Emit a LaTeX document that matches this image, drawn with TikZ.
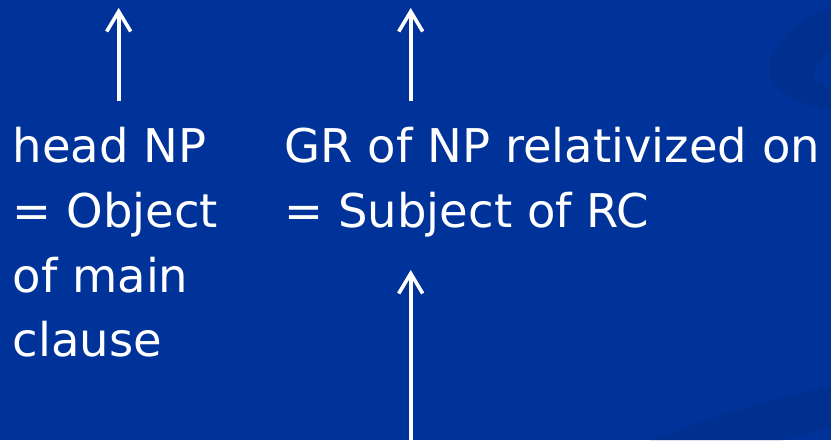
\documentclass[tikz,border=0pt]{standalone}
\usepackage{fontspec}
\setmainfont{DejaVu Sans}
\usetikzlibrary{arrows.meta}
\definecolor{slideblue}{RGB}{0,51,153}
\definecolor{swoosh}{RGB}{0,48,143}
\tikzset{
  label text/.style={text=white, inner sep=0pt, anchor=base west,
    font=\fontsize{46.5}{64}\selectfont},
  pointer/.style={white, line width=3.6pt,
    -{Straight Barb[length=20pt, width=24pt, line width=3.6pt]}},
}
\begin{document}
\begin{tikzpicture}[x=1pt, y=1pt]
  % slide background
  \fill[slideblue] (0,0) rectangle (831,440);
  \useasboundingbox (0,0) rectangle (831,440);
  % faint decorative swooshes on the right edge
  \fill[swoosh] (831,432) .. controls (790,420) and (764,385) .. (770,365)
     .. controls (776,345) and (805,335) .. (831,330)
     -- (831,352) .. controls (815,355) and (812,362) .. (815,368)
     .. controls (818,378) and (825,385) .. (831,390) -- cycle;
  \fill[swoosh] (650,0) .. controls (720,25) and (780,45) .. (831,53)
     -- (831,13) .. controls (815,8) and (800,3) .. (783,0) -- cycle;

  % labels
  \node[label text] (head) at (12.5,277) {head NP};
  \node[label text] (obj)  at (12.5,212) {= Object};
  \node[label text] (ofm)  at (12.5,148) {of main};
  \node[label text] (cla)  at (12.5,84)  {clause};
  \node[label text] (gr)   at (284.5,277) {GR of NP relativized on};
  \node[label text] (subj) at (284.5,212) {= Subject of RC};

  % arrow anchors
  \coordinate (a1s) at (118.7,339);
  \coordinate (a1e) at (118.7,432);
  \coordinate (a2s) at (410.7,339);
  \coordinate (a2e) at (410.7,432);
  \coordinate (a3s) at (410.7,0);
  \coordinate (a3e) at (410.7,170);

  \draw[pointer] (a1s) -- (a1e);
  \draw[pointer] (a2s) -- (a2e);
  \draw[pointer] (a3s) -- (a3e);
\end{tikzpicture}
\end{document}
